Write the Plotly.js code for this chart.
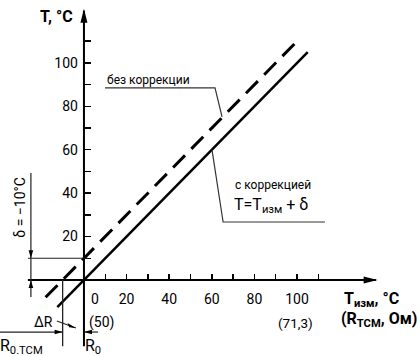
<!DOCTYPE html>
<html>
<head>
<meta charset="utf-8">
<script src="https://cdn.plot.ly/plotly-3.0.1.min.js"></script>
<style>html,body{margin:0;padding:0;background:#fff;}#chart{width:420px;height:357px;}</style>
</head>
<body>
<div id="chart"></div>
<script>
// ---- data ----
const tickValues = [10, 20, 30, 40, 50, 60, 70, 80, 90, 100, 110];
const xTickText = ['', '20', '', '40', '', '60', '', '80', '', '100', ''];
const yTickText = ['', '20', '', '40', '', '60', '', '80', '', '100', ''];
// with correction: T = Tизм + δ  (solid)
const corrX = [-12.5, 105];
const corrY = [-12.5, 105];
// without correction (dashed)
const rawX = [-18, 100];
const rawY = [-8, 110];
const delta = 10;          // |δ|
const r0tcmX = -10;        // R0.TCM position on Tизм axis

// ---- scales ----
const W = 420, H = 357;
const XMIN = -39.4, XMAX = 157.7, YMIN = -35.5, YMAX = 129.0;
const kx = W / (XMAX - XMIN), ky = H / (YMAX - YMIN);
const FONT = 'Roboto, "Liberation Sans", sans-serif';

function head(tx, ty, dx, dy, L, Wd) {
  const n = Math.hypot(dx, dy); dx /= n; dy /= n;
  const bx = tx - L * dx / kx, by = ty + L * dy / ky;
  const px = -dy * Wd / kx, py = -dx * Wd / ky;
  return {type: 'path', xref: 'x', yref: 'y', line: {width: 0}, fillcolor: '#000',
    path: `M${tx},${ty} L${bx + px},${by - py} L${bx - px},${by + py} Z`};
}
function seg(x0, y0, x1, y1, w, c) {
  return {type: 'line', xref: 'x', yref: 'y', x0, y0, x1, y1, line: {color: c || '#000', width: w}};
}
function poly(pts, w, c) {
  return {type: 'path', xref: 'x', yref: 'y', line: {color: c || '#000', width: w},
    path: 'M' + pts.map(p => p[0] + ',' + p[1]).join(' L')};
}

const traces = [
  {x: rawX, y: rawY, mode: 'lines', line: {color: '#000', width: 3, dash: '17px,9px'}, hoverinfo: 'skip'},
  {x: corrX, y: corrY, mode: 'lines', line: {color: '#000', width: 2.5}, hoverinfo: 'skip'}
];

const dimX = -24.9;
const shapes = [
  // axes
  seg(-26.3, 0, 137, 0, 2),
  seg(0, -30.5, 0, 124, 2),
  head(0, 125, 0, -1, 14, 3.5),
  head(137.8, 0, 1, 0, 14, 3.5),
  // δ dimension
  seg(-26.3, delta, 1.9, delta, 1.2, '#222'),
  seg(dimX, 49.3, dimX, -7.8, 1.2, '#222'),
  head(dimX, delta, 0, 1, 8, 2.3),
  head(dimX, 0, 0, -1, 8, 2.3),
  // R0.TCM / R0 dimension
  seg(r0tcmX, 0, r0tcmX, -30.5, 1.3, '#222'),
  seg(-39.4, -24, r0tcmX, -24, 1.2, '#222'),
  seg(0, -24, 6.6, -24, 1.2, '#222'),
  head(r0tcmX, -24, 1, 0, 8, 2.3),
  head(0, -24, -1, 0, 8, 2.3),
  // ΔR leader
  seg(-12.7, -18.9, -3.8, -22.1, 1.1, '#222'),
  head(-3.8, -22.1, 19, 7, 8, 2.3),
  // leaders for labels
  poly([[9.9, 88.5], [61.5, 88.5], [64.8, 75.1]], 1.2, '#333'),
  poly([[60.1, 59.9], [65.3, 26.7], [113.1, 26.7]], 1.2, '#333')
];

function txt(x, y, text, size, opts) {
  return Object.assign({x, y, xref: 'x', yref: 'y', text, showarrow: false,
    font: {family: FONT, size: size, color: '#000'}}, opts || {});
}
const annotations = [
  txt(-12.8, 121.4, '<b>T, °C</b>', 16, {xanchor: 'center'}),
  txt(9.9, 92.3, 'без коррекции', 12, {xanchor: 'left'}),
  txt(69.8, 43.7, 'с коррекцией', 12, {xanchor: 'left'}),
  txt(69.3, 34.5, 'T=T<sub>изм</sub> + δ', 16, {xanchor: 'left'}),
  txt(5.2, -8.8, '0', 14),
  txt(8, -19.8, '(50)', 14),
  txt(99.5, -19.8, '(71,3)', 13.5),
  txt(135, -9.2, '<b>T<sub>изм</sub>, °C</b>', 16),
  txt(138.5, -18.4, '<b>(R<sub>TCM</sub>, Ом)</b>', 16),
  txt(-19, -19.6, 'ΔR', 14),
  txt(-29.5, -30.8, 'R<sub>0.TCM</sub>', 16),
  txt(4.3, -30.8, 'R<sub>0</sub>', 16),
  txt(-29.8, 33.5, 'δ = −10°C', 14, {textangle: -90})
];

const layout = {
  width: W, height: H, margin: {l: 0, r: 0, t: 0, b: 0},
  paper_bgcolor: '#fff', plot_bgcolor: '#fff', showlegend: false,
  xaxis: {range: [XMIN, XMAX], showgrid: false, zeroline: false, showline: false,
    anchor: 'free', position: (0 - YMIN) / (YMAX - YMIN), fixedrange: true,
    tickmode: 'array', tickvals: tickValues, ticktext: xTickText,
    ticks: 'inside', ticklen: 6, tickwidth: 1.5, tickcolor: '#000',
    ticklabelstandoff: 9,
    tickfont: {family: FONT, size: 14, color: '#000'}},
  yaxis: {range: [YMIN, YMAX], showgrid: false, zeroline: false, showline: false,
    anchor: 'free', position: (0 - XMIN) / (XMAX - XMIN), fixedrange: true,
    tickmode: 'array', tickvals: tickValues, ticktext: yTickText,
    ticks: 'inside', ticklen: 6, tickwidth: 1.5, tickcolor: '#000',
    ticklabelstandoff: 6,
    tickfont: {family: FONT, size: 14, color: '#000'}},
  shapes, annotations
};
Plotly.newPlot('chart', traces, layout, {staticPlot: true, displayModeBar: false});
</script>
</body>
</html>
